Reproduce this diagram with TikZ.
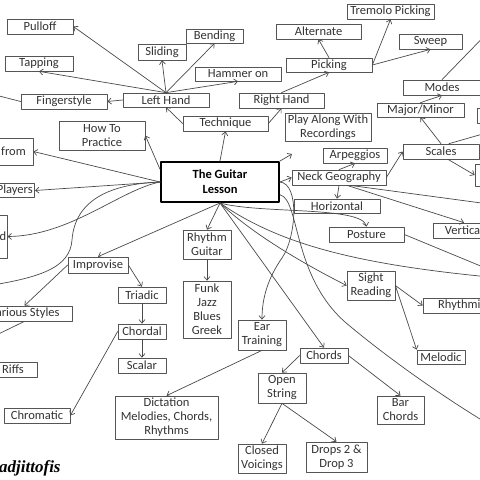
\documentclass[tikz,border=0pt]{standalone}
\usepackage{fontspec}
\setmainfont{Carlito}
\newfontfamily\signfont{Liberation Serif}
\usetikzlibrary{arrows.meta}
\definecolor{boxgray}{HTML}{555555}
\definecolor{linegray}{HTML}{4A4A4A}
\definecolor{textgray}{HTML}{333333}
\tikzset{
  topic/.style={draw=boxgray, fill=white, line width=0.7pt, inner sep=1pt, align=center,
    font=\fontsize{12.5}{14}\selectfont, text=textgray},
  hub/.style={topic, draw=black, line width=2pt, font=\fontsize{12.5}{15}\selectfont\bfseries, text=black},
  link/.style={draw=linegray, line width=0.7pt, ->},
}
\begin{document}
\begin{tikzpicture}[x=1pt, y=-1pt, line join=round, line cap=round, >={Straight Barb[length=3.5pt,width=6pt]}]
  \useasboundingbox (0,0) rectangle (480,480);
  \clip (0,0) rectangle (480,480);
  % centre
  \node[hub, minimum width=118, minimum height=40] (guitar) at (220,182) {The Guitar\\Lesson};
  % technique branch
  \node[topic, minimum width=66, minimum height=15] (pulloff) at (40,26.5) {Pulloff};
  \node[topic, minimum width=68, minimum height=15] (tapping) at (39,63.5) {Tapping};
  \node[topic, minimum width=48, minimum height=16] (sliding) at (162,52) {Sliding};
  \node[topic, minimum width=57, minimum height=14] (bending) at (214.5,36) {Bending};
  \node[topic, minimum width=86, minimum height=14] (hammer) at (238,74) {Hammer on};
  \node[topic, minimum width=86, minimum height=15] (fingerstyle) at (64,101.5) {Fingerstyle};
  \node[topic, minimum width=86, minimum height=14] (lefthand) at (166,100) {Left Hand};
  \node[topic, minimum width=85, minimum height=15] (technique) at (225.5,123.5) {Technique};
  \node[topic, minimum width=86, minimum height=29] (practice) at (102,135.5) {How To\\Practice};
  \node[topic, minimum width=85, minimum height=15] (righthand) at (281.5,100.5) {Right Hand};
  \node[topic, minimum width=86, minimum height=14] (picking) at (329,65) {Picking};
  \node[topic, minimum width=85, minimum height=15] (alternate) at (318.5,31.5) {Alternate};
  \node[topic, minimum width=87, minimum height=15] (tremolo) at (390.5,11.5) {Tremolo Picking};
  \node[topic, minimum width=63, minimum height=15] (sweep) at (430.5,41.5) {Sweep};
  \node[topic, minimum width=86, minimum height=28] (playalong) at (328,127) {Play Along With\\Recordings};
  % neck branch
  \node[topic, minimum width=77, minimum height=15] (modes) at (442,87.5) {Modes};
  \node[topic, minimum width=87, minimum height=14] (majorminor) at (420.5,110) {Major/Minor};
  \node[topic, minimum width=76, minimum height=15] (scales) at (441,151.5) {Scales};
  \node[topic, minimum width=64, minimum height=15] (arpeggios) at (355,155.5) {Arpeggios};
  \node[topic, minimum width=94, minimum height=15] (neck) at (339,177.5) {Neck Geography};
  \node[topic, minimum width=86, minimum height=14] (horizontal) at (337,206) {Horizontal};
  \node[topic, minimum width=62, minimum height=15] (vertical) at (464,230.5) {Vertical};
  \node[topic, minimum width=86, minimum height=15] (offbox1) at (520,115.5) {};
  \node[topic, minimum width=86, minimum height=22] (offbox2) at (518,175) {};
  \node[topic, minimum width=75, minimum height=15] (posture) at (366.5,234.5) {Posture};
  \node[topic, minimum width=48, minimum height=29] (sight) at (371,285.5) {Sight\\Reading};
  \node[topic, minimum width=78, minimum height=15] (rhythmic) at (462,305.5) {Rhythmic};
  \node[topic, minimum width=48, minimum height=14] (melodic) at (441,357) {Melodic};
  % left edge
  \node[topic, minimum width=39, minimum height=27] (learn) at (13.5,151.5) {from};
  \node[topic, anchor=east, minimum height=13.5, inner xsep=2] (players) at (35,190.5) {Players};
  \node[topic, anchor=east, minimum height=43, inner xsep=1] (leftd) at (7.5,236.5) {d};
  % improvise branch
  \node[topic, minimum width=60, minimum height=16] (improvise) at (98,265) {Improvise};
  \node[topic, minimum width=95, minimum height=15] (various) at (24.5,313.5) {Various Styles};
  \node[topic, minimum width=48, minimum height=15] (riffs) at (13,369.5) {Riffs};
  \node[topic, minimum width=66, minimum height=15] (chromatic) at (37,415.5) {Chromatic};
  \node[topic, minimum width=48, minimum height=16] (triadic) at (142,295) {Triadic};
  \node[topic, minimum width=48, minimum height=15] (chordal) at (142,331.5) {Chordal};
  \node[topic, minimum width=48, minimum height=15] (scalar) at (142,365.5) {Scalar};
  \node[topic, minimum width=48, minimum height=29] (rhythm) at (207,244.5) {Rhythm\\Guitar};
  \node[topic, minimum width=48, minimum height=57] (genres) at (207,309.5) {Funk\\Jazz\\Blues\\Greek};
  % ear and chords
  \node[topic, minimum width=103, minimum height=43] (dictation) at (166.5,417.5) {Dictation\\Melodies, Chords,\\Rhythms};
  \node[topic, minimum width=48, minimum height=30] (ear) at (262,335) {Ear\\Training};
  \node[topic, minimum width=48, minimum height=15] (chords) at (324,355.5) {Chords};
  \node[topic, minimum width=48, minimum height=30] (openstring) at (282,388) {Open\\String};
  \node[topic, minimum width=47, minimum height=28] (barchords) at (400.5,410) {Bar\\Chords};
  \node[topic, minimum width=48, minimum height=29] (closed) at (262,458.5) {Closed\\Voicings};
  \node[topic, minimum width=61, minimum height=30] (drops) at (336.5,457) {Drops 2 \&\\Drop 3};
  \node[font=\signfont\fontsize{17}{17}\selectfont\bfseries\itshape, anchor=base west, inner sep=0pt] (signature) at (-1,472) {adjittofis};
  % free ends beyond the frame
  \path
  (-30,88.5) coordinate (fingerend)
  (-20,287) coordinate (leftend)
  (-20,343) coordinate (variousend)
  (500,20) coordinate (modesend)
  (500,205.5) coordinate (neckend)
  (500,274) coordinate (postureend)
  (500,278) coordinate (rightend)
  (505,434) coordinate (bigend)
  (292,154) coordinate (playtip)
  ;
  \foreach \a/\b in {guitar.north/technique.south, technique.west/lefthand.south, technique.east/righthand.south,
    righthand.north/picking.south, picking.north/alternate.south, picking.east/tremolo.south, picking.east/sweep.south,
    lefthand.north/pulloff.east, lefthand.north/tapping.south, lefthand.north/sliding.south, lefthand.north/bending.south,
    lefthand.north/hammer.south, lefthand.west/fingerstyle.east, fingerstyle.west/fingerend,
    guitar.168/practice.east, guitar.west/learn.east, guitar.west/players.east,
    guitar.south/improvise.north, guitar.south/rhythm.north, rhythm.south/genres.north,
    improvise.east/triadic.north, improvise.west/various.north, various.south/variousend,
    triadic.south/chordal.north, chordal.south/scalar.north, chordal.west/chromatic.east,
    ear.south/dictation.north, guitar.south/chords.north, chords.west/openstring.north, chords.east/barchords.north,
    openstring.south/closed.north, openstring.south/drops.north,
    guitar.east/neck.west, neck.north/arpeggios.south, neck.east/scales.west, neck.south/horizontal.north,
    scales.north/majorminor.south, majorminor.north/modes.south, modes.north/modesend,
    sight.east/rhythmic.west, sight.east/melodic.north west, posture.east/postureend, guitar.north east/playtip}
    \draw[link] (\a) -- (\b);
  \draw[link] ([xshift=8]scales.north) -- (offbox1.south);
  \draw[link] ([xshift=7]scales.south) -- (offbox2.west);
  \draw[link] ([xshift=8]neck.south) -- (vertical.north);
  \draw[link] ([xshift=11]neck.south) -- (neckend);
  % curves
  \draw[link] (guitar.west) .. controls (120,190) and (70,236) .. (leftd.east);
  \draw[link] (guitar.west) .. controls (110,184) and (75,200) .. (72,240) .. controls (70,268) and (40,278) .. (leftend);
  \draw[link] (guitar.east) .. controls (300,184) and (296,238) .. (282,258) .. controls (268,278) and (262,298) .. (ear.north);
  \draw[link] (guitar.-12) .. controls (300,200) and (292,275) .. (345,322) .. controls (390,360) and (450,402) .. (bigend);
  \draw[link] (guitar.south) .. controls (260,214) and (362,206) .. (posture.north);
  \draw[link] (guitar.south) .. controls (280,245) and (360,265) .. (rightend);
  \draw[link] (guitar.south) .. controls (250,232) and (300,262) .. (sight.west);
\end{tikzpicture}
\end{document}
